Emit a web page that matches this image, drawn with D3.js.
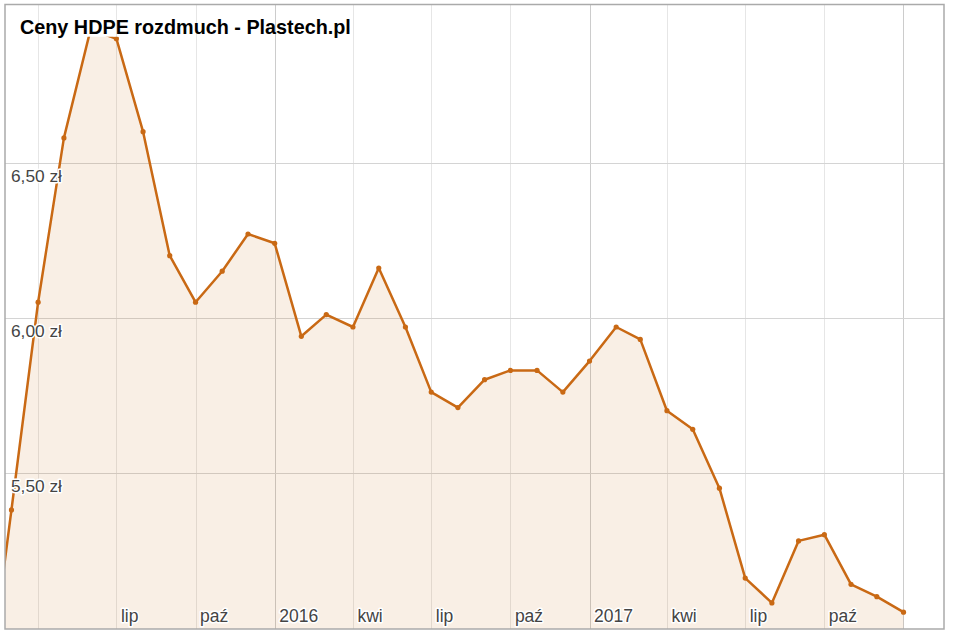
<!DOCTYPE html>
<html>
<head>
<meta charset="utf-8">
<script src="https://cdn.jsdelivr.net/npm/d3@7"></script>
<style>
  html, body { margin: 0; padding: 0; background: #fff; }
  svg { display: block; font-family: Arial, "Liberation Sans", sans-serif; }
</style>
</head>
<body>
<svg id="chart" width="954" height="636"></svg>
<script>
// ---- data ----
const title = "Ceny HDPE rozdmuch - Plastech.pl";
const months = ["2015-02","2015-03","2015-04","2015-05","2015-06","2015-07","2015-08","2015-09","2015-10","2015-11","2015-12",
  "2016-01","2016-02","2016-03","2016-04","2016-05","2016-06","2016-07","2016-08","2016-09","2016-10","2016-11","2016-12",
  "2017-01","2017-02","2017-03","2017-04","2017-05","2017-06","2017-07","2017-08","2017-09","2017-10","2017-11","2017-12",
  "2018-01"];
const prices = [4.78, 5.38, 6.05, 6.58, 6.93, 6.90, 6.60, 6.20, 6.05, 6.15, 6.27,
  6.24, 5.94, 6.01, 5.97, 6.16, 5.97, 5.76, 5.71, 5.80, 5.83, 5.83, 5.76,
  5.86, 5.97, 5.93, 5.70, 5.64, 5.45, 5.16, 5.08, 5.28, 5.30, 5.14, 5.10,
  5.05];
const yTickValues = [5.5, 6.0, 6.5];
const yTickLabels = ["5,50 zł", "6,00 zł", "6,50 zł"];
const xTickMonths = ["2015-04","2015-07","2015-10","2016-01","2016-04","2016-07","2016-10","2017-01","2017-04","2017-07","2017-10","2018-01"];
const xTickLabels = ["", "lip", "paź", "2016", "kwi", "lip", "paź", "2017", "kwi", "lip", "paź", ""];

(function () {
// ---- layout ----
const parseMonth = d3.timeParse("%Y-%m");
const data = months.map((m, i) => ({ date: parseMonth(m), value: prices[i] }));
const xTicks = xTickMonths.map(parseMonth);

const pLeft = 5, pRight = 944, pTop = 4.5, pBottom = 629;
const clipTop = 36.7;
const lineColor = "#c96914";

const x = d3.scaleTime()
  .domain([new Date(2015, 1, 21, 12), new Date(2018, 1, 17, 2)])
  .range([pLeft, pRight]);
const y = d3.scaleLinear().domain([5, 7]).range([627.7, 7.7]);

const svg = d3.select("#chart");

// vertical gridlines
svg.append("g").selectAll("line").data(xTicks).join("line")
  .attr("x1", d => Math.round(x(d)) + 0.5).attr("x2", d => Math.round(x(d)) + 0.5)
  .attr("y1", pTop).attr("y2", pBottom)
  .attr("stroke", d => d.getMonth() === 0 ? "#cccccc" : "#e6e6e6")
  .attr("stroke-width", 1);

// horizontal gridlines
svg.append("g").selectAll("line").data(yTickValues).join("line")
  .attr("x1", pLeft).attr("x2", pRight)
  .attr("y1", d => Math.round(y(d)) + 0.5).attr("y2", d => Math.round(y(d)) + 0.5)
  .attr("stroke", "#d4d4d4").attr("stroke-width", 1);

// clip
svg.append("defs").append("clipPath").attr("id", "plotClip")
  .append("rect").attr("x", pLeft).attr("y", clipTop)
  .attr("width", pRight - pLeft).attr("height", pBottom - clipTop);

const plot = svg.append("g").attr("clip-path", "url(#plotClip)");

const area = d3.area().x(d => x(d.date)).y0(pBottom).y1(d => y(d.value));
const line = d3.line().x(d => x(d.date)).y(d => y(d.value));

plot.append("path").datum(data).attr("d", area)
  .attr("fill", lineColor).attr("fill-opacity", 0.11);
plot.append("path").datum(data).attr("d", line)
  .attr("fill", "none").attr("stroke", lineColor).attr("stroke-width", 2.5)
  .attr("stroke-linejoin", "round");
plot.append("g").selectAll("circle").data(data).join("circle")
  .attr("cx", d => x(d.date)).attr("cy", d => y(d.value)).attr("r", 2.6)
  .attr("fill", lineColor);

// x axis labels (inside)
const xAxis = d3.axisBottom(x).tickValues(xTicks)
  .tickFormat((d, i) => xTickLabels[i]).tickSize(0).tickPadding(0);
const gx = svg.append("g").call(xAxis);
gx.select(".domain").remove();
gx.selectAll("text")
  .attr("text-anchor", "start")
  .attr("dx", 4)
  .attr("y", 621.5).attr("dy", 0)
  .attr("font-size", 17.5)
  .attr("font-family", "Arial, 'Liberation Sans', sans-serif")
  .attr("fill", "#444")
  .attr("stroke", "#fff").attr("stroke-width", 3).attr("paint-order", "stroke")
  .attr("stroke-linejoin", "round");

// y axis labels (inside)
const yAxis = d3.axisLeft(y).tickValues(yTickValues)
  .tickFormat((d, i) => yTickLabels[i]).tickSize(0).tickPadding(0);
const gy = svg.append("g").call(yAxis);
gy.select(".domain").remove();
gy.selectAll("text")
  .attr("text-anchor", "start")
  .attr("x", 11).attr("dy", 19.3)
  .attr("font-size", 17.3)
  .attr("font-family", "Arial, 'Liberation Sans', sans-serif")
  .attr("fill", "#444")
  .attr("stroke", "#fff").attr("stroke-width", 3).attr("paint-order", "stroke")
  .attr("stroke-linejoin", "round");

// title
svg.append("text").attr("x", 20).attr("y", 34.3)
  .attr("font-size", 19.8).attr("font-weight", "bold").attr("fill", "#000")
  .text(title);

// frame
svg.append("rect").attr("x", pLeft).attr("y", pTop)
  .attr("width", pRight - pLeft).attr("height", pBottom - pTop)
  .attr("fill", "none").attr("stroke", "#aaaaaa").attr("stroke-width", 1.5);
})();
</script>
</body>
</html>
